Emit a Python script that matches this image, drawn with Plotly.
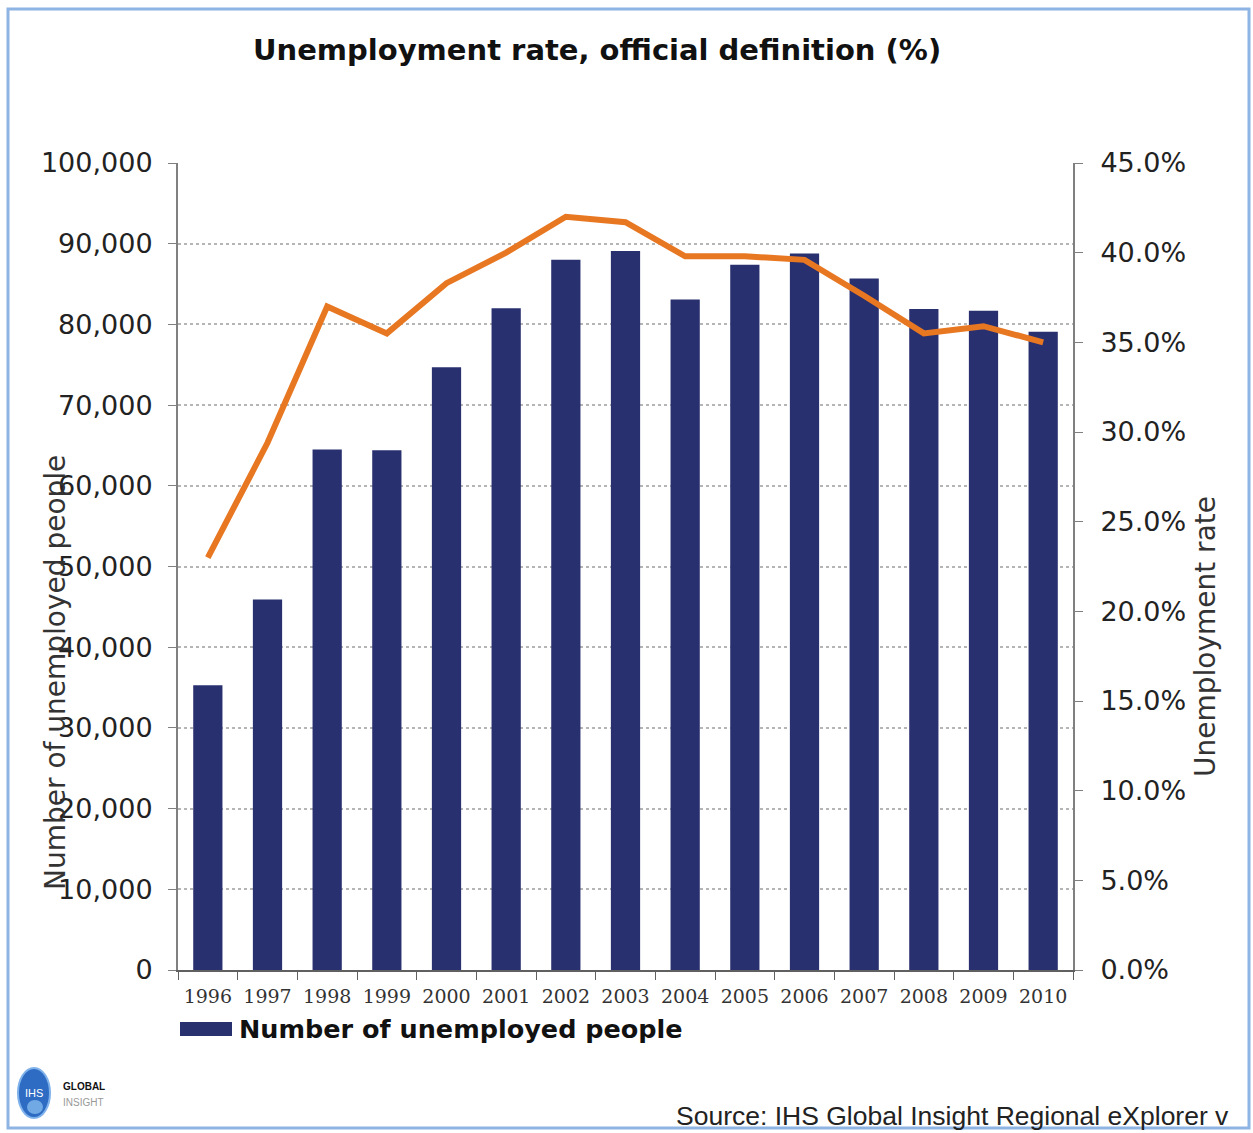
import plotly.graph_objects as go

years = ["1996", "1997", "1998", "1999", "2000", "2001", "2002", "2003",
         "2004", "2005", "2006", "2007", "2008", "2009", "2010"]
unemployed = [35300, 45900, 64500, 64400, 74700, 82000, 88000, 89100,
              83100, 87400, 88800, 85700, 81900, 81700, 79100]
rate_pct = [23.0, 29.4, 37.0, 35.5, 38.3, 40.0, 42.0, 41.7,
            39.8, 39.8, 39.6, 37.6, 35.5, 35.9, 35.0]

left_ticks = list(range(0, 100001, 10000))
right_ticks = [i * 5 for i in range(10)]
right_labels = [f"{v:.1f}%" for v in right_ticks]

W, H = 1253, 1133
L, R, T, B = 178, 1073, 163, 970


def px(x):
    return (x - L) / (R - L)


def py(y):
    return (B - y) / (B - T)


NAVY = "#29306f"
ORANGE = "#e87722"
FONT = "DejaVu Sans"

fig = go.Figure()
fig.add_trace(go.Bar(x=years, y=unemployed, name="Number of unemployed people",
                     marker=dict(color=NAVY, line=dict(width=0)),
                     yaxis="y", showlegend=False))
fig.add_trace(go.Scatter(x=years, y=rate_pct, name="Unemployment rate",
                         mode="lines", line=dict(color=ORANGE, width=6),
                         yaxis="y2", showlegend=False))

fig.update_layout(
    width=W, height=H,
    margin=dict(l=L, r=W - R, t=T, b=H - B),
    paper_bgcolor="white", plot_bgcolor="white",
    bargap=0.51,
    font=dict(family=FONT, color="#222222"),
    xaxis=dict(type="category", showline=True, linecolor="#606060", linewidth=2,
               ticks="outside", tickson="boundaries", ticklen=8, tickcolor="#606060",
               tickfont=dict(size=19, color="#333333", family="DejaVu Serif"),
               ticklabelstandoff=8,
               showgrid=False),
    yaxis=dict(range=[0, 100000], tickvals=left_ticks, tickformat=",d",
               showline=True, linecolor="#808080", linewidth=2,
               ticks="outside", ticklen=8, tickcolor="#808080",
               tickfont=dict(size=27, color="#222222"),
               ticklabelstandoff=10,
               showgrid=True, gridcolor="#b5b5b5", griddash="dot", gridwidth=1.5,
               zeroline=False),
    yaxis2=dict(range=[0, 45], tickvals=right_ticks, ticktext=right_labels,
                overlaying="y", side="right",
                showline=True, linecolor="#808080", linewidth=2,
                ticks="outside", ticklen=8, tickcolor="#808080",
                tickfont=dict(size=27, color="#222222"),
                ticklabelstandoff=12,
                showgrid=False, zeroline=False),
)

# frame
fig.add_shape(type="rect", xref="paper", yref="paper",
              x0=px(8), x1=px(1249), y0=py(1128), y1=py(9),
              line=dict(color="#8eb4e3", width=3), fillcolor="rgba(0,0,0,0)", layer="below")

annotations = [
    dict(text="<b>Unemployment rate, official definition (%)</b>", x=px(597), y=py(50),
         font=dict(size=29, color="#111111", family=FONT), xanchor="center", yanchor="middle"),
    dict(text="Number of unemployed people", x=px(55), y=py(673), textangle=-90,
         font=dict(size=28, color="#333333", family=FONT), xanchor="center", yanchor="middle"),
    dict(text="Unemployment rate", x=px(1205), y=py(637), textangle=-90,
         font=dict(size=28, color="#333333", family=FONT), xanchor="center", yanchor="middle"),
    dict(text="<b>Number of unemployed people</b>", x=px(237), y=py(1029),
         font=dict(size=25.5, color="#111111", family=FONT), xanchor="left", yanchor="middle"),
    dict(text="Source: IHS Global Insight Regional eXplorer v", x=px(674), y=py(1116),
         font=dict(size=26.5, color="#222222", family="Liberation Sans"), xanchor="left", yanchor="middle"),
    dict(text="IHS", x=px(34), y=py(1093),
         font=dict(size=11, color="white", family="Liberation Sans"), xanchor="center", yanchor="middle"),
    dict(text="<b>GLOBAL</b>", x=px(61), y=py(1086),
         font=dict(size=10, color="#111111", family="Liberation Sans Narrow, Liberation Sans"),
         xanchor="left", yanchor="middle"),
    dict(text="INSIGHT", x=px(61), y=py(1102),
         font=dict(size=10, color="#999999", family="Liberation Sans Narrow, Liberation Sans"),
         xanchor="left", yanchor="middle"),
]
for a in annotations:
    a.update(xref="paper", yref="paper", showarrow=False)
    fig.add_annotation(**a)

# legend key
fig.add_shape(type="rect", xref="paper", yref="paper",
              x0=px(180), x1=px(232), y0=py(1036), y1=py(1022),
              line=dict(width=0), fillcolor=NAVY)

# logo sphere
fig.add_shape(type="circle", xref="paper", yref="paper",
              x0=px(18), x1=px(50), y0=py(1118), y1=py(1068),
              line=dict(color="#7fb2ea", width=2), fillcolor="#2e6cc4")
fig.add_shape(type="circle", xref="paper", yref="paper",
              x0=px(27), x1=px(43), y0=py(1114), y1=py(1100),
              line=dict(width=0), fillcolor="rgba(170,220,255,0.55)")

fig.write_html("out.html")
